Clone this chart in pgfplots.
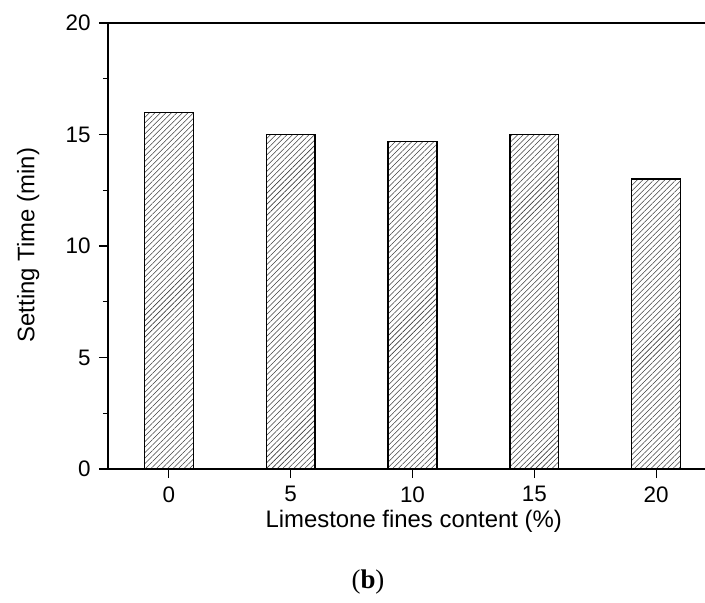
\documentclass[border=0pt]{standalone}
\usepackage{fontspec}
\setmainfont{Liberation Sans}
\newfontfamily\capfont{Liberation Serif}
\usepackage{pgfplots}
\pgfplotsset{compat=1.18}
\usetikzlibrary{patterns.meta}
\begin{document}
\begin{tikzpicture}
\path[use as bounding box] (-108bp,-134bp) rectangle (597bp,469bp);
\begin{axis}[
  at={(0,0)}, anchor=south west,
  scale only axis,
  width=609bp, height=446bp,
  xmin=-2.5, xmax=22.5,
  ymin=0, ymax=20,
  axis x line*=box, axis y line*=left,
  axis line style={line width=1.4bp},
  xtick={0,5,10,15,20},
  ytick={0,5,10,15,20},
  minor ytick={2.5,7.5,12.5,17.5},
  xtick pos=bottom, ytick pos=left,
  tick align=outside,
  major tick length=9bp, minor tick length=5bp,
  tick style={line width=1.2bp, black},
  /pgf/number format/assume math mode=true,
  tick label style={font=\fontsize{22.5}{27}\selectfont},
  yticklabel style={xshift=-5bp},
  xticklabel style={yshift=-5bp},
  label style={font=\fontsize{24}{28}\selectfont},
  xlabel={Limestone fines content (\%)},
  ylabel={Setting Time (min)},
  xlabel style={at={(axis description cs:0.502,-0.117)}, anchor=center},
  ylabel style={at={(axis description cs:-0.131,0.502)}, anchor=center},
  clip=false,
]
\addplot[ybar, bar width=2, draw=black, line width=1.3bp, fill=white,
  postaction={pattern={Lines[angle=45, distance=3.9pt, line width=0.55pt]}, pattern color=black!75}]
  coordinates {(0,16) (5,15) (10,14.7) (15,15) (20,13)};
\end{axis}
\node[font=\capfont\fontsize{27}{32}\selectfont] at (260bp,-113bp) {(\textbf{b})};
\end{tikzpicture}
\end{document}
